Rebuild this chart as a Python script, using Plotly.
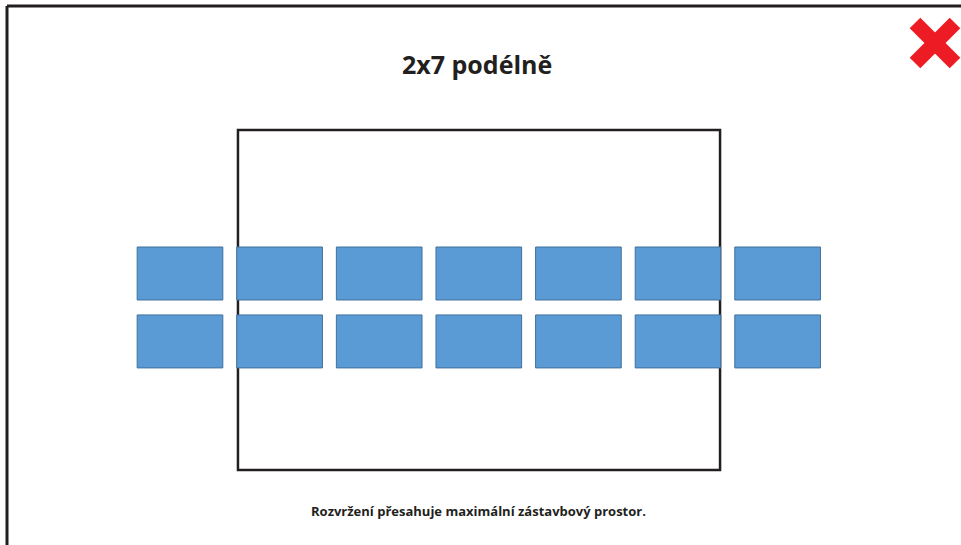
import plotly.graph_objects as go

# layout of modules: 7 columns x 2 rows, placed lengthwise
columns = [0, 1, 2, 3, 4, 5, 6]
row_upper_base = [0.075] * 7
row_lower_base = [-0.607] * 7
module_height = [0.532] * 7

# maximal buildable area (zastavbovy prostor)
limit_x = [0.582, 5.422]
limit_y = [-1.631, 1.782]

title_text = "2x7 podélně"
note_text = "Rozvržení přesahuje maximální zástavbový prostor."

INK = "#231F20"
FILL = "#5B9BD5"
EDGE = "#41719C"
RED = "#ED1C24"

fig = go.Figure()

for base, name in [(row_upper_base, "row 1"), (row_lower_base, "row 2")]:
    fig.add_trace(go.Bar(
        x=columns,
        y=module_height,
        base=base,
        width=0.86,
        name=name,
        marker=dict(color=FILL, line=dict(color=EDGE, width=1)),
        hoverinfo='skip',
        showlegend=False
    ))

shapes = [
    # buildable area
    dict(type='rect', xref='x', yref='y',
         x0=limit_x[0], x1=limit_x[1], y0=limit_y[0], y1=limit_y[1],
         line=dict(color=INK, width=2.5), layer='below'),
    # slide frame
    dict(type='line', xref='paper', yref='paper',
         x0=7 / 961, x1=7 / 961, y0=1 - 6 / 545, y1=0,
         line=dict(color=INK, width=3)),
    dict(type='line', xref='paper', yref='paper',
         x0=7 / 961, x1=1, y0=1 - 6 / 545, y1=1 - 6 / 545,
         line=dict(color=INK, width=3)),
    # red cross
    dict(type='line', xref='paper', yref='paper',
         x0=915 / 961, x1=955 / 961, y0=1 - 23 / 545, y1=1 - 63 / 545,
         line=dict(color=RED, width=15)),
    dict(type='line', xref='paper', yref='paper',
         x0=915 / 961, x1=955 / 961, y0=1 - 63 / 545, y1=1 - 23 / 545,
         line=dict(color=RED, width=15)),
]

fig.update_layout(
    width=961,
    height=545,
    margin=dict(l=0, r=0, t=0, b=0),
    paper_bgcolor='white',
    plot_bgcolor='white',
    barmode='overlay',
    shapes=shapes,
    xaxis=dict(range=[-1.807, 7.841], visible=False, fixedrange=True),
    yaxis=dict(range=[-2.385, 3.087], visible=False, fixedrange=True),
    annotations=[
        dict(text=title_text, x=476.5 / 961, y=1 - 64 / 545, xref='paper', yref='paper',
             showarrow=False, xanchor='center', yanchor='middle',
             font=dict(family='Open Sans', size=25, color=INK, weight='bold')),
        dict(text=note_text, x=478 / 961, y=1 - 511 / 545, xref='paper', yref='paper',
             showarrow=False, xanchor='center', yanchor='middle',
             font=dict(family='Open Sans', size=13, color=INK, weight='bold')),
    ]
)

fig.write_html("out.html", config={'displayModeBar': False},
               post_script="document.body.style.margin='0';")
